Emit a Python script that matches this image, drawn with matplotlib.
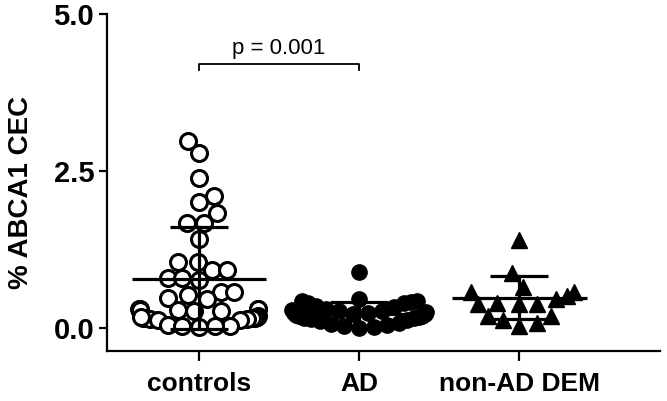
import numpy as np
import matplotlib
matplotlib.use("Agg")
import matplotlib.pyplot as plt

plt.rcParams['font.family'] = ['Liberation Sans', 'DejaVu Sans']

groups = ['controls', 'AD', 'non-AD DEM']

controls = [2.98, 2.78, 2.38, 2.10, 2.00, 1.83, 1.67, 1.67, 1.41, 1.05, 1.05,
            0.92, 0.92, 0.79, 0.79, 0.76, 0.57, 0.57, 0.52, 0.47, 0.45,
            0.30, 0.29, 0.29, 0.28, 0.28, 0.27, 0.27, 0.30,
            0.18, 0.17, 0.16, 0.16, 0.15, 0.15, 0.14, 0.14, 0.13, 0.12, 0.17,
            0.05, 0.03, 0.02, 0.02, 0.01]
ad = [0.88, 0.46, 0.43, 0.40, 0.40, 0.41, 0.43, 0.35, 0.33, 0.30, 0.28,
      0.27, 0.26, 0.25, 0.24, 0.23, 0.22, 0.21, 0.20, 0.19, 0.18, 0.17,
      0.16, 0.15, 0.14, 0.12, 0.10, 0.08, 0.06, 0.04, 0.02, 0.01, 0.00]
non_ad = [1.39, 0.87, 0.57, 0.65, 0.51, 0.57, 0.45, 0.40, 0.38, 0.37, 0.37,
          0.18, 0.18, 0.13, 0.08, 0.02]

means = [0.78, 0.21, 0.48]
sds = [0.82, 0.20, 0.34]

p_text = 'p = 0.001'
bracket = [0.0, 1.0]   # x extent of the bracket (category positions)
bracket_y = 4.21


def swarm(ax, xc, vals, d, maxw):
    # beeswarm in pixels, then squeeze wide rows so they pile up at the edges
    tr = ax.transData
    xpix0 = tr.transform((xc, 0))[0]
    placed = []
    offs = [0.0] * len(vals)
    ys = [0.0] * len(vals)
    for idx in np.argsort(vals):
        yp = tr.transform((xc, vals[idx]))[1]
        cands = [0.0]
        for px, py in placed:
            dy = abs(yp - py)
            if dy < d:
                dx = np.sqrt(d * d - dy * dy)
                cands += [px + dx, px - dx]
        cands.sort(key=lambda c: (round(abs(c), 3), c < 0 if len(placed) % 2 else c > 0))
        for c in cands:
            if all((c - px) ** 2 + (yp - py) ** 2 >= d * d - 1e-6 for px, py in placed):
                break
        placed.append((c, yp))
        offs[idx] = maxw * np.tanh(c / maxw)
        ys[idx] = yp
    inv = tr.inverted()
    return [inv.transform((xpix0 + o, y))[0] for o, y in zip(offs, ys)]


fig = plt.figure(figsize=(6.67, 4.01), dpi=100)
ax = fig.add_axes([0.160, 0.125, 0.830, 0.840])
ax.set_xlim(-0.575, 2.88)
ax.set_ylim(-0.37, 5.0)

styles = [dict(marker='o', mfc='white', mec='black', mew=2.2, ms=11.5),
          dict(marker='o', mfc='black', mec='black', mew=1.0, ms=11),
          dict(marker='^', mfc='black', mec='black', mew=1.0, ms=12)]
spacing = [17, 15, 18]
halfwidth = [60, 70, 68]

for i, vals in enumerate([controls, ad, non_ad]):
    xs = swarm(ax, i, vals, spacing[i], halfwidth[i])
    ax.plot(xs, vals, linestyle='none', zorder=2, **styles[i])
    # mean and SD
    ax.plot([i - 0.42, i + 0.42], [means[i], means[i]], color='black', lw=2.3, zorder=3,
            solid_capstyle='butt')
    lo = max(means[i] - sds[i], -0.02)
    hi = means[i] + sds[i]
    ax.plot([i, i], [lo, hi], color='black', lw=2.3, zorder=3)
    for y in (lo, hi):
        ax.plot([i - 0.18, i + 0.18], [y, y], color='black', lw=2.3, zorder=3,
                solid_capstyle='butt')

# significance bracket
ax.plot([bracket[0], bracket[0], bracket[1], bracket[1]],
        [bracket_y - 0.1, bracket_y, bracket_y, bracket_y - 0.1], color='black', lw=1.3)
ax.text(sum(bracket) / 2, bracket_y + 0.08, p_text, ha='center', va='bottom', fontsize=16)

ax.set_xticks(range(len(groups)))
ax.set_xticklabels(groups, fontsize=19, fontweight='bold')
ax.set_yticks([0, 2.5, 5.0])
ax.set_yticklabels(['0.0', '2.5', '5.0'], fontsize=21, fontweight='bold')
ax.set_ylabel('% ABCA1 CEC', fontsize=20, fontweight='bold', labelpad=14, y=0.47)
ax.tick_params(axis='y', width=1.6, length=6, pad=3)
ax.tick_params(axis='x', width=1.6, length=7, pad=8)
for s in ('top', 'right'):
    ax.spines[s].set_visible(False)
for s in ('left', 'bottom'):
    ax.spines[s].set_linewidth(1.6)

fig.savefig('out.png', dpi=100)
